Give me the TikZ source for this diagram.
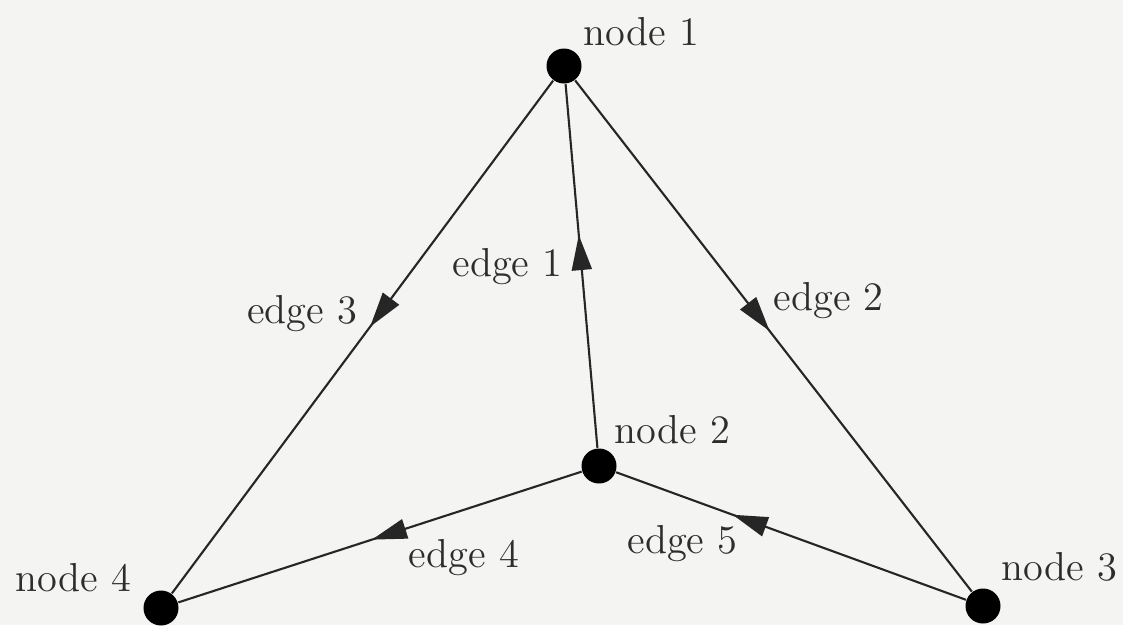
\documentclass[tikz,border=0pt]{standalone}
\usepackage{tikz}
\usetikzlibrary{positioning,arrows.meta,decorations.markings}
\definecolor{PaperTone}{RGB}{244,244,243}
\definecolor{InkTone}{RGB}{45,45,45}
\tikzset{
  vertex/.style={circle,fill=black,inner sep=0pt,minimum size=0.35cm},
  nodelabel/.style={inner sep=0pt,text=InkTone,font=\fontsize{11.5}{14}\selectfont},
  edgelabel/.style={inner sep=0pt,text=InkTone,font=\fontsize{11.5}{14}\selectfont},
  edge/.style={draw=black!85,line width=0.6pt},
  midarrow/.style={postaction={decorate},decoration={markings,
    mark=at position #1 with {\arrow{Triangle[length=3.5mm,width=2mm]}}}}
}

\begin{document}
\begin{tikzpicture}
  \fill[PaperTone] (0,0) rectangle (11.23,6.25);
  \useasboundingbox (0,0) rectangle (11.23,6.25);
  % vertices
  \node[vertex] (n1) at (5.64,5.59) {};
  \node[vertex] (n2) at (5.99,1.59) {};
  \node[vertex] (n3) at (9.83,0.19) {};
  \node[vertex] (n4) at (1.61,0.17) {};
  \node[nodelabel,above right=0.07cm and 0.06cm of n1] (l1) {node 1};
  \node[nodelabel,above right=0.09cm and 0.02cm of n2] (l2) {node 2};
  \node[nodelabel,above right=0.11cm and 0.05cm of n3] (l3) {node 3};
  \node[nodelabel,above left=0.03cm and 0.16cm of n4] (l4) {node 4};
  % edges
  \draw[edge,midarrow=0.585] (n2) -- node[edgelabel,pos=0.497,left=0.18cm] (e1) {edge 1} (n1);
  \draw[edge,midarrow=0.49] (n1) -- node[edgelabel,pos=0.43,right=0.27cm] (e2) {edge 2} (n3);
  \draw[edge,midarrow=0.48] (n1) -- node[edgelabel,pos=0.454,left=0.22cm] (e3) {edge 3} (n4);
  \draw[edge,midarrow=0.52] (n2) -- node[edgelabel,pos=0.431,below right=0.1cm and 0cm] (e4) {edge 4} (n4);
  \draw[edge,midarrow=0.667] (n3) -- node[edgelabel,pos=0.65,below left=0.08cm and 0cm] (e5) {edge 5} (n2);
\end{tikzpicture}
\end{document}
